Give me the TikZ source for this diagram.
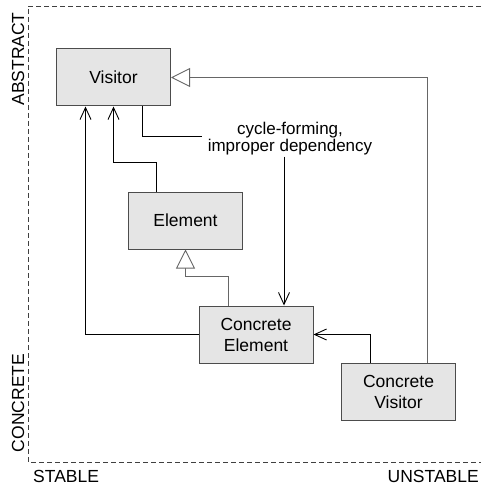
\documentclass[tikz,border=0pt]{standalone}
\usepackage{fontspec}
\setmainfont{Liberation Sans}
\usetikzlibrary{arrows.meta}

\begin{document}
\begin{tikzpicture}[x=1pt,y=-1pt,
    box/.style={draw=black!70,fill=gray!20,line width=1pt,minimum width=114pt,minimum height=57pt,align=center,inner sep=0pt,font=\fontsize{17.5}{21}\selectfont},
    uses/.style={draw=black,line width=0.9pt,-{Straight Barb[length=12pt,width=11pt]}},
    inherit/.style={draw=black!60,line width=0.9pt,-{Triangle[open,length=19pt,width=19pt,fill=white]}},
    axis/.style={draw=black!75,line width=0.9pt,dash pattern=on 5pt off 3pt},
    tag/.style={inner sep=0pt,font=\fontsize{17.5}{21}\selectfont}]
    \useasboundingbox (0,0) rectangle (481,486);
    %stability frame
    \draw[axis] (481,6) -- (28,6) -- (28,462) -- (481,462);
    \node[tag,rotate=90] (abstract) at (18,59) {ABSTRACT};
    \node[tag,rotate=90] (concrete) at (18,403) {CONCRETE};
    \node[tag,anchor=base west] (stable) at (33,482) {STABLE};
    \node[tag,anchor=base east] (unstable) at (479,482) {UNSTABLE};
    %classes
    \node[box] (visitor) at (113.5,77.5) {Visitor};
    \node[box] (element) at (185.5,220.5) {Element};
    \node[box] (celement) at (256,334.5) {Concrete\\Element};
    \node[box] (cvisitor) at (398.5,391.5) {Concrete\\Visitor};
    \node[align=center,inner xsep=6pt,inner ysep=1pt,font=\fontsize{17}{15.5}\selectfont] (cycle) at (290,139) {cycle-forming,\\improper dependency};
    %relations
    \draw[inherit] ([xshift=28.5pt]cvisitor.north) |- (visitor.east);
    \draw[uses] ([xshift=-28.5pt]cvisitor.north) |- (celement.east);
    \draw[inherit] ([xshift=-28pt]celement.north) -- ++(0,-29) -| (element.south);
    \draw[uses] ([xshift=-29pt]element.north) -- ++(0,-29) -| (visitor.south);
    \draw[uses] (celement.west) -| ([xshift=-28pt]visitor.south);
    \draw ([xshift=28.5pt]visitor.south) |- ([yshift=3pt]cycle.west);
    \draw[uses] ([xshift=28pt]celement.north |- cycle.south) -- ([xshift=28pt]celement.north);
\end{tikzpicture}
\end{document}
